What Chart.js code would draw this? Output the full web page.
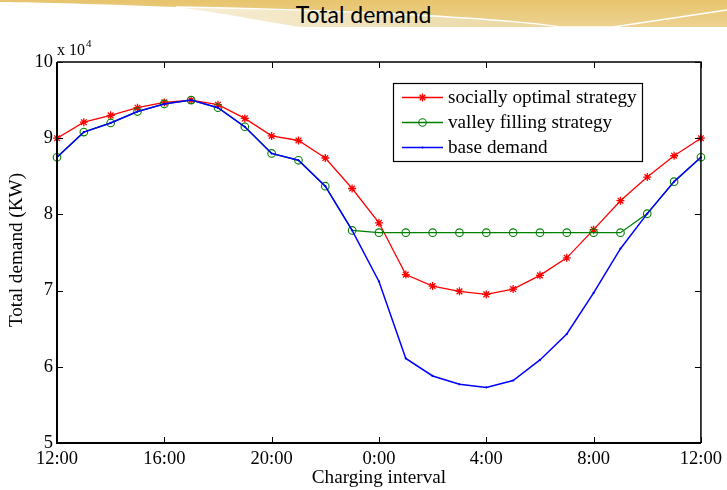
<!DOCTYPE html>
<html><head><meta charset="utf-8">
<script src="https://cdn.jsdelivr.net/npm/chart.js@4.4.1/dist/chart.umd.min.js"></script>
<style>
html,body{margin:0;padding:0;background:#fff;}
#wrap{position:relative;width:727px;height:490px;overflow:hidden;background:#fff;}
#hdr{position:absolute;left:0;top:0;}
#ttl{position:absolute;left:0;top:1px;width:727px;height:27px;line-height:27px;text-align:center;font-family:Lato,"Open Sans",sans-serif;font-size:23px;color:#000;}
#c{position:absolute;left:0;top:0;}
</style></head><body>
<div id="wrap">
<svg id="hdr" width="727" height="28" viewBox="0 0 727 28">
<defs>
<linearGradient id="g1" x1="0" y1="0" x2="0" y2="1"><stop offset="0" stop-color="#e7c46d"/><stop offset="1" stop-color="#edd392"/></linearGradient>
<linearGradient id="g2" x1="0" y1="0" x2="1" y2="0"><stop offset="0" stop-color="#f7eed6"/><stop offset="1" stop-color="#ead6a0"/></linearGradient>
</defs>
<path d="M0,0 H727 V27 H560 C500,18 350,10 176,7 C100,4 40,2.5 0,2 Z" fill="url(#g1)"/>
<path d="M176,7 C350,10 500,18 560,27 H300 C250,19 210,11 176,7 Z" fill="url(#g2)"/>
<path d="M176,7 C350,10 500,18 560,27" fill="none" stroke="#fff" stroke-width="1.3"/>
<path d="M560,27 L613,27" stroke="#fff" stroke-width="1.3"/>
<path d="M613,27 L727,10" stroke="#fff" stroke-width="1.3"/>
</svg>
<div id="ttl">Total demand</div>
<canvas id="c" width="727" height="490"></canvas>
</div>
<script>
// ---- data ----
const categories = ['12:00','13:00','14:00','15:00','16:00','17:00','18:00','19:00','20:00','21:00','22:00','23:00',
  '0:00','1:00','2:00','3:00','4:00','5:00','6:00','7:00','8:00','9:00','10:00','11:00','12:00'];
const seriesNames = ['socially optimal strategy','valley filling strategy','base demand'];
const sociallyOptimal = [90000,92100,93000,94000,94700,95000,94400,92600,90300,89700,87400,83400,78900,72100,70600,69900,69500,70200,72000,74300,78000,81800,84900,87700,90000];
const valleyFilling  = [87500,90800,92000,93500,94500,95000,94000,91500,88000,87100,83700,77900,77600,77600,77600,77600,77600,77600,77600,77600,77600,77600,80100,84300,87500];
const baseDemand     = [87500,90800,92000,93500,94500,95000,94000,91500,88000,87100,83700,77900,71200,61100,58800,57700,57300,58200,60900,64300,69700,75500,80100,84300,87500];
const yTickValues = [50000,60000,70000,80000,90000,100000];
const xTickEvery = 4;

const SERIF = '"Liberation Serif","Times New Roman",serif';

function drawStar(ctx, x, y, r){
  ctx.beginPath();
  for (let k=0;k<4;k++){
    const a = k*Math.PI/4;
    ctx.moveTo(x - r*Math.cos(a), y - r*Math.sin(a));
    ctx.lineTo(x + r*Math.cos(a), y + r*Math.sin(a));
  }
  ctx.stroke();
}

const deco = {
  id:'deco',
  afterDraw(chart){
    const {ctx, chartArea:a, scales:{x,y}} = chart;
    ctx.save();
    // inward ticks
    ctx.strokeStyle = '#000'; ctx.lineWidth = 1;
    const tl = 6;
    for (let i=0;i<categories.length;i+=xTickEvery){
      const px = Math.round(x.getPixelForValue(i))+0.5;
      ctx.beginPath(); ctx.moveTo(px,a.bottom); ctx.lineTo(px,a.bottom-tl); ctx.stroke();
      ctx.beginPath(); ctx.moveTo(px,a.top); ctx.lineTo(px,a.top+tl); ctx.stroke();
    }
    for (const v of yTickValues){
      const py = Math.round(y.getPixelForValue(v))+0.5;
      ctx.beginPath(); ctx.moveTo(a.left,py); ctx.lineTo(a.left+tl,py); ctx.stroke();
      ctx.beginPath(); ctx.moveTo(a.right,py); ctx.lineTo(a.right-tl,py); ctx.stroke();
    }
    // box
    ctx.lineWidth = 1.5;
    ctx.beginPath(); ctx.moveTo(a.left,a.top); ctx.lineTo(a.right,a.top); ctx.lineTo(a.right,a.bottom); ctx.stroke();
    ctx.lineWidth = 2;
    ctx.beginPath(); ctx.moveTo(a.left,a.top); ctx.lineTo(a.left,a.bottom); ctx.lineTo(a.right,a.bottom); ctx.stroke();

    // exponent label
    ctx.fillStyle = '#000';
    ctx.textBaseline = 'alphabetic'; ctx.textAlign = 'left';
    ctx.font = '16px ' + SERIF;
    ctx.fillText('x 10', a.left, 55);
    const w = ctx.measureText('x 10').width;
    ctx.font = '11px ' + SERIF;
    ctx.fillText('4', a.left + w + 1, 47);

    // axis titles
    ctx.font = '19.2px ' + SERIF;
    ctx.textAlign = 'center'; ctx.textBaseline = 'middle';
    ctx.fillText('Charging interval', (a.left+a.right)/2, 478);
    ctx.save();
    ctx.translate(16.5, 250);
    ctx.rotate(-Math.PI/2);
    ctx.fillText('Total demand (KW)', 0, 0);
    ctx.restore();

    // legend
    const lx = 393.5, ly = 83.5, lw = 249, lh = 78;
    ctx.fillStyle = '#fff';
    ctx.fillRect(lx, ly, lw, lh);
    ctx.strokeStyle = '#000'; ctx.lineWidth = 1.2;
    ctx.strokeRect(lx, ly, lw, lh);
    const rows = [97, 122, 147];
    ctx.font = '19.2px ' + SERIF;
    ctx.textAlign = 'left'; ctx.textBaseline = 'middle';
    chart.data.datasets.forEach((ds, i) => {
      const ry = rows[i] + 0.5;
      ctx.strokeStyle = ds.borderColor; ctx.lineWidth = ds.borderWidth;
      ctx.beginPath(); ctx.moveTo(402, ry); ctx.lineTo(443, ry); ctx.stroke();
      const mx = 422.5;
      if (ds.pointStyle === 'star'){
        ctx.lineWidth = 1.3; drawStar(ctx, mx, ry, ds.pointRadius);
      } else if (ds.pointBackgroundColor === 'transparent'){
        ctx.lineWidth = 1.1; ctx.beginPath(); ctx.arc(mx, ry, ds.pointRadius, 0, Math.PI*2); ctx.stroke();
      } else {
        ctx.fillStyle = ds.borderColor; ctx.beginPath(); ctx.arc(mx, ry, ds.pointRadius, 0, Math.PI*2); ctx.fill();
      }
      ctx.fillStyle = '#000';
      ctx.fillText(ds.label, 448, rows[i] + 1);
    });
    ctx.restore();
  }
};

new Chart(document.getElementById('c'), {
  type: 'line',
  data: {
    labels: categories,
    datasets: [
      {label: seriesNames[0], data: sociallyOptimal, borderColor: '#ff0000', backgroundColor: '#ff0000',
       borderWidth: 1.3, pointStyle: 'star', pointRadius: 4, pointBorderWidth: 1.3, pointBorderColor: '#ff0000',
       tension: 0, clip: false, order: 3},
      {label: seriesNames[1], data: valleyFilling, borderColor: '#008000', backgroundColor: 'transparent',
       borderWidth: 1.3, pointStyle: 'circle', pointRadius: 3.8, pointBorderWidth: 1.1, pointBorderColor: '#008000',
       pointBackgroundColor: 'transparent', tension: 0, clip: false, order: 2},
      {label: seriesNames[2], data: baseDemand, borderColor: '#0000ff', backgroundColor: '#0000ff',
       borderWidth: 1.5, pointStyle: 'circle', pointRadius: 1.1, pointBorderWidth: 0, pointBackgroundColor: '#0000ff',
       tension: 0, clip: false, order: 1}
    ]
  },
  options: {
    responsive: false, animation: false, devicePixelRatio: 1,
    layout: {padding: {left: 0, right: 25, top: 62, bottom: 0}},
    plugins: {legend: {display: false}, title: {display: false}, tooltip: {enabled: false}},
    scales: {
      x: {
        type: 'category', offset: false,
        grid: {display: false, drawTicks: false}, border: {display: false},
        ticks: {autoSkip: false, maxRotation: 0, minRotation: 0, padding: 5, color: '#000',
          font: {family: SERIF, size: 18.5},
          callback: (v, i) => (i % xTickEvery === 0 ? categories[i] : '')},
        afterFit: s => { s.height = 47; }
      },
      y: {
        min: yTickValues[0], max: yTickValues[yTickValues.length-1],
        grid: {display: false, drawTicks: false}, border: {display: false},
        ticks: {stepSize: 10000, padding: 4, color: '#000', font: {family: SERIF, size: 18.5},
          callback: v => v / 1e4},
        afterFit: s => { s.width = 57; }
      }
    }
  },
  plugins: [deco]
});
</script>
</body></html>
